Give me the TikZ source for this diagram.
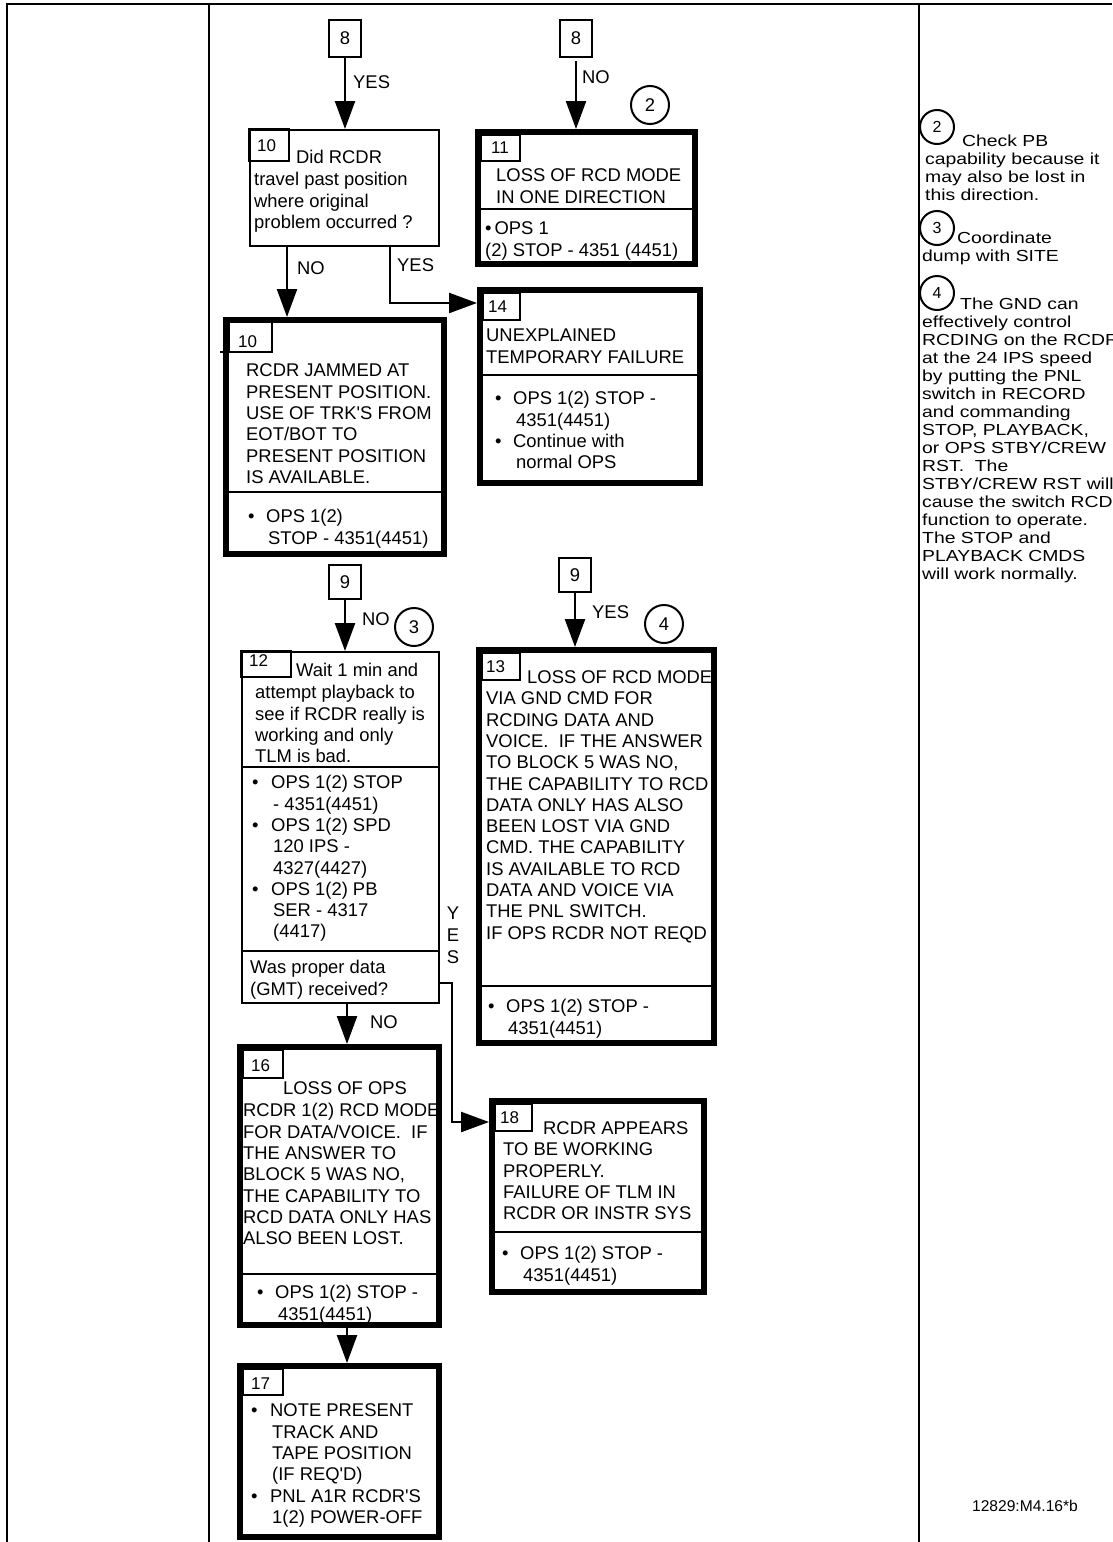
\documentclass[tikz,border=0pt]{standalone}
\usepackage{graphicx}
\usepackage{fontspec}
\setmainfont{Liberation Sans}
\usetikzlibrary{arrows.meta}
\newcommand\myTx{\fontsize{18.4}{21.3}\selectfont}
\newcommand\myNum{\fontsize{17}{20}\selectfont}
\newcommand\myNote{\fontsize{16}{18}\selectfont}
\newcommand\myFoot{\fontsize{15.6}{18}\selectfont}
\newcommand\myBul[1]{\makebox[#1][l]{•}}
\newcommand\myWide[1]{\scalebox{1.21}[1]{\begin{tabular}{@{}l@{}}#1\end{tabular}}}
\begin{document}
\begin{tikzpicture}[x=1pt,y=-1pt,
  thinbox/.style={draw,line width=2pt,outer sep=1pt,inner sep=0pt,anchor=north west},
  thickbox/.style={draw,line width=6pt,outer sep=3pt,inner sep=0pt,anchor=north west},
  conbox/.style={draw,line width=2pt,outer sep=1pt,inner sep=0pt,anchor=north west,font=\myTx},
  tagline/.style={line width=2pt},
  divline/.style={line width=2.6pt},
  frameline/.style={line width=2.6pt},
  arr/.style={line width=2.4pt,-{Triangle[length=28pt,width=20pt]}},
  tx/.style={anchor=north west,inner sep=0pt,align=left,font=\myTx},
  num/.style={anchor=west,inner sep=0pt,font=\myNum},
  lbl/.style={anchor=west,inner sep=0pt,font=\myTx},
  callout/.style={draw,circle,line width=2pt,inner sep=0pt,minimum size=38pt,font=\myTx},
  rcallout/.style={draw,circle,line width=2pt,inner sep=0pt,minimum size=34pt,font=\myNote},
  note/.style={anchor=north west,inner sep=0pt,font=\myNote},
]
\useasboundingbox (0,0) rectangle (1112,1542);
\fill[white] (0,0) rectangle (1112,1542);

% frame
\draw[frameline] (7,1542) -- (7,4) -- (1112,4);
\draw[frameline] (209,4) -- (209,1542);
\draw[frameline] (919,4) -- (919,1542);

% connector boxes
\node[conbox,minimum width=32pt,minimum height=37pt] (c8a) at (328,19) {8};
\node[conbox,minimum width=32pt,minimum height=37pt] (c8b) at (559,19) {8};
\node[conbox,minimum width=32pt,minimum height=34pt] (c9a) at (328,564) {9};
\node[conbox,minimum width=32pt,minimum height=34pt] (c9b) at (558,557) {9};

% main boxes
\node[thinbox,minimum width=189pt,minimum height=116pt] (b10) at (249,129) {};
\node[thickbox,minimum width=217pt,minimum height=132pt] (b11) at (475,129) {};
\node[thickbox,minimum width=218pt,minimum height=234pt] (b10b) at (223,317) {};
\node[thickbox,minimum width=220pt,minimum height=193pt] (b14) at (477,287) {};
\node[thinbox,minimum width=197pt,minimum height=351pt] (b12) at (241,651) {};
\node[thickbox,minimum width=235pt,minimum height=393pt] (b13) at (476,647) {};
\node[thickbox,minimum width=199pt,minimum height=278pt] (b16) at (237,1044) {};
\node[thickbox,minimum width=199pt,minimum height=171pt] (b17) at (237,1363) {};
\node[thickbox,minimum width=212pt,minimum height=191pt] (b18) at (489,1098) {};

% dividers
\draw[divline] (b11.west |- 0,209) -- (b11.east |- 0,209);
\draw[divline] (b10b.west |- 0,492) -- (b10b.east |- 0,492);
\draw[divline] (b14.west |- 0,375) -- (b14.east |- 0,375);
\draw[divline] (b12.west |- 0,767) -- (b12.east |- 0,767);
\draw[divline] (b12.west |- 0,951) -- (b12.east |- 0,951);
\draw[divline] (b13.west |- 0,986) -- (b13.east |- 0,986);
\draw[divline] (b16.west |- 0,1274) -- (b16.east |- 0,1274);
\draw[divline] (b18.west |- 0,1232) -- (b18.east |- 0,1232);

% tags
\draw[tagline] (249,129) rectangle (289,161);
\draw[tagline] (481,135) rectangle (520,161);
\draw[tagline] (229,322) rectangle (272,352);
\draw[tagline] (220,352) -- (229,352);
\draw[tagline] (483,293) rectangle (520,320);
\draw[tagline] (241,651) rectangle (291,677);
\draw[tagline] (482,653) rectangle (520,680);
\draw[tagline] (243,1050) rectangle (283,1078);
\draw[tagline] (243,1369) rectangle (283,1395);
\draw[tagline] (495,1104) rectangle (532,1131);
\node[num] (n10) at (257,146) {10};
\node[num] (n11) at (491,148) {11};
\node[num] (n10b) at (238,342) {10};
\node[num] (n14) at (488,307) {14};
\node[num] (n12) at (249,661) {12};
\node[num] (n13) at (486,667) {13};
\node[num] (n16) at (251,1066) {16};
\node[num] (n17) at (251,1384) {17};
\node[num] (n18) at (500,1118) {18};

% box texts
\node[tx] (t10a) at (296,148.4) {\strut Did RCDR};
\node[tx] (t10b) at (254,170.7) {\strut travel past position\\where original\\problem occurred ?};
\node[tx] (t11a) at (496,166.7) {\strut LOSS OF RCD MODE\\IN ONE DIRECTION};
\node[tx] (t11b) at (485,219.7) {\strut •\hspace{3pt}OPS 1\\(2) STOP - 4351 (4451)};
\node[tx] (t10c) at (246,361.7) {\strut RCDR JAMMED AT\\PRESENT POSITION.\\USE OF TRK\textquotesingle S FROM\\EOT/BOT TO\\PRESENT POSITION\\IS AVAILABLE.};
\node[tx] (t10d) at (248,507.7) {\strut\myBul{18pt}OPS 1(2)\\\hspace*{20pt}STOP - 4351(4451)};
\node[tx] (t14a) at (486,326.7) {\strut UNEXPLAINED\\TEMPORARY FAILURE};
\node[tx] (t14b) at (495,389.7) {\strut\myBul{18pt}OPS 1(2) STOP -\\\hspace*{21pt}4351(4451)\\\myBul{18pt}Continue with\\\hspace*{21pt}normal OPS};
\node[tx] (t12a) at (296,661.7) {\strut Wait 1 min and};
\node[tx] (t12b) at (255,683.7) {\strut attempt playback to\\see if RCDR really is\\working and only\\TLM is bad.};
\node[tx] (t12c) at (252,773.7) {\strut\myBul{19pt}OPS 1(2) STOP\\\hspace*{21pt}- 4351(4451)\\\myBul{19pt}OPS 1(2) SPD\\\hspace*{21pt}120 IPS -\\\hspace*{21pt}4327(4427)\\\myBul{19pt}OPS 1(2) PB\\\hspace*{21pt}SER - 4317\\\hspace*{21pt}(4417)};
\node[tx] (t12d) at (250,958.7) {\strut Was proper data\\(GMT) received?};
\node[tx] (t13a) at (527,668.7) {\strut LOSS OF RCD MODE};
\node[tx] (t13b) at (486,689.7) {\strut VIA GND CMD FOR\\RCDING DATA AND\\VOICE.\ \ IF THE ANSWER\\TO BLOCK 5 WAS NO,\\THE CAPABILITY TO RCD\\DATA ONLY HAS ALSO\\BEEN LOST VIA GND\\CMD. THE CAPABILITY\\IS AVAILABLE TO RCD\\DATA AND VOICE VIA\\THE PNL SWITCH.\\IF OPS RCDR NOT REQD};
\node[tx] (t13c) at (488,997.7) {\strut\myBul{18pt}OPS 1(2) STOP -\\\hspace*{20pt}4351(4451)};
\node[tx] (t16a) at (283,1079.7) {\strut LOSS OF OPS};
\node[tx] (t16b) at (243,1101.7) {\strut RCDR 1(2) RCD MODE\\FOR DATA/VOICE.\ \ IF\\THE ANSWER TO\\BLOCK 5 WAS NO,\\THE CAPABILITY TO\\RCD DATA ONLY HAS\\ALSO BEEN LOST.};
\node[tx] (t16c) at (257,1283.7) {\strut\myBul{18pt}OPS 1(2) STOP -\\\hspace*{21pt}4351(4451)};
\node[tx] (t17a) at (251,1401.7) {\strut\myBul{19pt}NOTE PRESENT\\\hspace*{21pt}TRACK AND\\\hspace*{21pt}TAPE POSITION\\\hspace*{21pt}(IF REQ\textquotesingle D)\\\myBul{19pt}PNL A1R RCDR\textquotesingle S\\\hspace*{21pt}1(2) POWER-OFF};
\node[tx] (t18a) at (543,1119.7) {\strut RCDR APPEARS};
\node[tx] (t18b) at (503,1140.7) {\strut TO BE WORKING\\PROPERLY.\\FAILURE OF TLM IN\\RCDR OR INSTR SYS};
\node[tx] (t18c) at (502,1244.7) {\strut\myBul{18pt}OPS 1(2) STOP -\\\hspace*{21pt}4351(4451)};

% labels
\node[lbl] (l1) at (353,82) {YES};
\node[lbl] (l2) at (582,77) {NO};
\node[lbl] (l3) at (297,268) {NO};
\node[lbl] (l4) at (397,265) {YES};
\node[lbl] (l5) at (362,619) {NO};
\node[lbl] (l6) at (592,612) {YES};
\node[lbl] (l7) at (370,1022) {NO};
\node[font=\myTx,inner sep=0pt] (ly) at (453,913) {Y};
\node[font=\myTx,inner sep=0pt] (le) at (453,935) {E};
\node[font=\myTx,inner sep=0pt] (ls) at (453,957) {S};

% callouts
\node[callout] (k2) at (650,105) {2};
\node[callout] (k3) at (414,627) {3};
\node[callout] (k4) at (664,624) {4};

% connectors
\draw[arr] (c8a.south) -- (c8a.south |- b10.north);
\draw[arr] ([yshift=-3pt]c8b.south) -- (c8b.south |- b11.north);
\draw[arr] (287,0 |- b10.south) -- (287,0 |- b10b.north);
\draw[arr] (390,0 |- b10.south) |- (b14.west |- 0,303);
\draw[arr] (c9a.south) -- (c9a.south |- b12.north);
\draw[arr] (c9b.south) -- (c9b.south |- b13.north);
\draw[arr] (347,0 |- b12.south) -- (347,0 |- b16.north);
\draw[arr] (b12.east |- 0,983) -| (452,1122) -- (b18.west |- 0,1122);
\draw[arr] (347,0 |- b16.south) -- (347,0 |- b17.north);

% right column notes
\begin{scope}
\clip (0,0) rectangle (1112,1542);
\node[rcallout] (r2) at (937,127) {2};
\node[note] (m2a) at (962,134.1) {\myWide{Check PB}};
\node[note] (m2b) at (925,152.1) {\myWide{capability because it\\may also be lost in\\this direction.}};
\node[rcallout] (r3) at (937,228) {3};
\node[note] (m3a) at (957,231.1) {\myWide{Coordinate}};
\node[note] (m3b) at (922,249.1) {\myWide{dump with SITE}};
\node[rcallout] (r4) at (937,293) {4};
\node[note] (m4a) at (960,297.1) {\myWide{The GND can}};
\node[note] (m4b) at (922,315.1) {\myWide{effectively control\\RCDING on the RCDR\\at the 24 IPS speed\\by putting the PNL\\switch in RECORD\\and commanding\\STOP, PLAYBACK,\\or OPS STBY/CREW\\RST.\ \ The\\STBY/CREW RST will\\cause the switch RCD\\function to operate.\\The STOP and\\PLAYBACK CMDS\\will work normally.}};
\end{scope}
\node[font=\myFoot,inner sep=0pt] (foot) at (1025,1506) {12829:M4.16*b};
\end{tikzpicture}
\end{document}
